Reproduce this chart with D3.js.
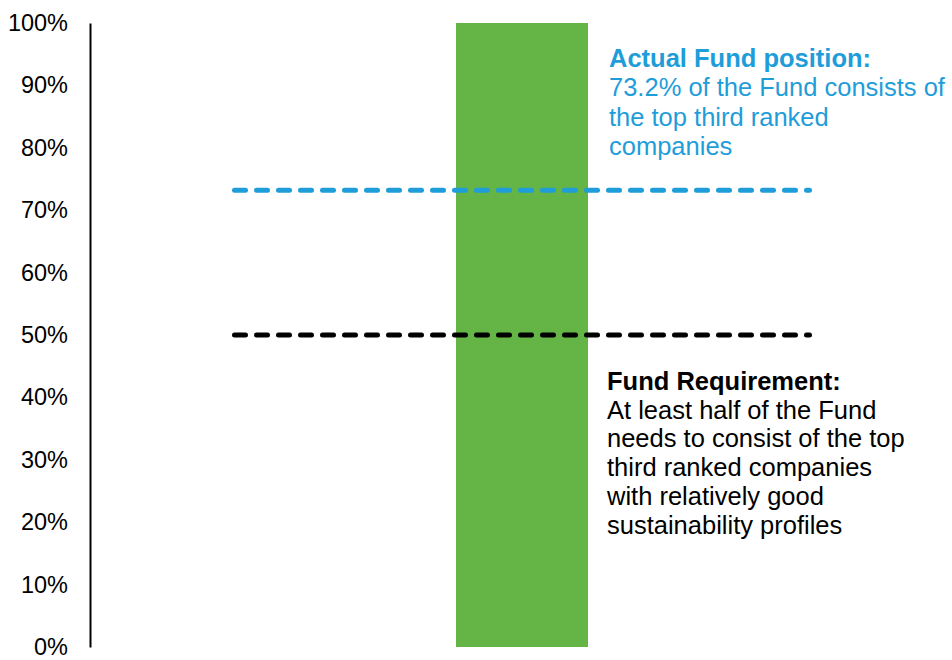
<!DOCTYPE html>
<html>
<head>
<meta charset="utf-8">
<script src="https://cdn.jsdelivr.net/npm/d3@7"></script>
<style>
  html, body { margin: 0; padding: 0; background: #fff; }
  svg { display: block; font-family: "Liberation Sans", Arial, sans-serif; }
</style>
</head>
<body>
<svg id="chart" width="952" height="660"></svg>
<script>
// Share of the Fund held in top-third ranked companies
const categories = ["Fund"];
const barValues = [1.0];
const actualPosition = [0.732];
const requirement = [0.5];
const yTicks = [0, 0.1, 0.2, 0.3, 0.4, 0.5, 0.6, 0.7, 0.8, 0.9, 1.0];

const actualTitle = "Actual Fund position:";
const actualLines = ["73.2% of the Fund consists of", "the top third ranked", "companies"];
const reqTitle = "Fund Requirement:";
const reqLines = ["At least half of the Fund", "needs to consist of the top", "third ranked companies", "with relatively good", "sustainability profiles"];

const svg = d3.select("#chart");
const blue = "#1f9dd9";
const green = "#64b446";

const y = d3.scaleLinear().domain([0, 1]).range([647, 23]);
// bar occupies a narrow band in the centre of the plot
const barX = d3.scaleBand().domain(categories).range([456, 588]);
const lineX = d3.scaleLinear().domain([0, 1]).range([234.5, 809.5]);

// y axis
const axis = d3.axisLeft(y).tickValues(yTicks).tickFormat(d3.format(".0%")).tickSize(0).tickPadding(22);
const gAxis = svg.append("g").attr("transform", "translate(90,0)").call(axis);
gAxis.select(".domain").attr("stroke", "#000").attr("stroke-width", 2);
gAxis.selectAll("text").attr("font-size", 23.5).attr("fill", "#000")
  .attr("font-family", "'Liberation Sans', Arial, sans-serif");

// bar
svg.selectAll("rect.bar").data(barValues).enter().append("rect")
  .attr("class", "bar")
  .attr("x", (d, i) => barX(categories[i]))
  .attr("width", barX.bandwidth())
  .attr("y", d => y(d))
  .attr("height", d => y(0) - y(d))
  .attr("fill", green);

// reference lines
function refLine(vals, color) {
  svg.selectAll(null).data(vals).enter().append("line")
    .attr("x1", lineX(0)).attr("x2", lineX(1))
    .attr("y1", d => y(d)).attr("y2", d => y(d))
    .attr("stroke", color).attr("stroke-width", 5)
    .attr("stroke-linecap", "round")
    .attr("stroke-dasharray", "11,11");
}
refLine(actualPosition, blue);
refLine(requirement, "#000");

// annotations
function note(xPos, yTop, title, lines, color, gap) {
  const t = svg.append("text").attr("x", xPos).attr("y", yTop)
    .attr("fill", color).attr("font-size", 25.5);
  t.append("tspan").attr("x", xPos).attr("font-weight", "bold").text(title);
  lines.forEach(l => t.append("tspan").attr("x", xPos).attr("dy", gap).text(l));
}
note(609, 67, actualTitle, actualLines, blue, 29.4);
note(607, 390, reqTitle, reqLines, "#000", 28.7);
</script>
</body>
</html>
